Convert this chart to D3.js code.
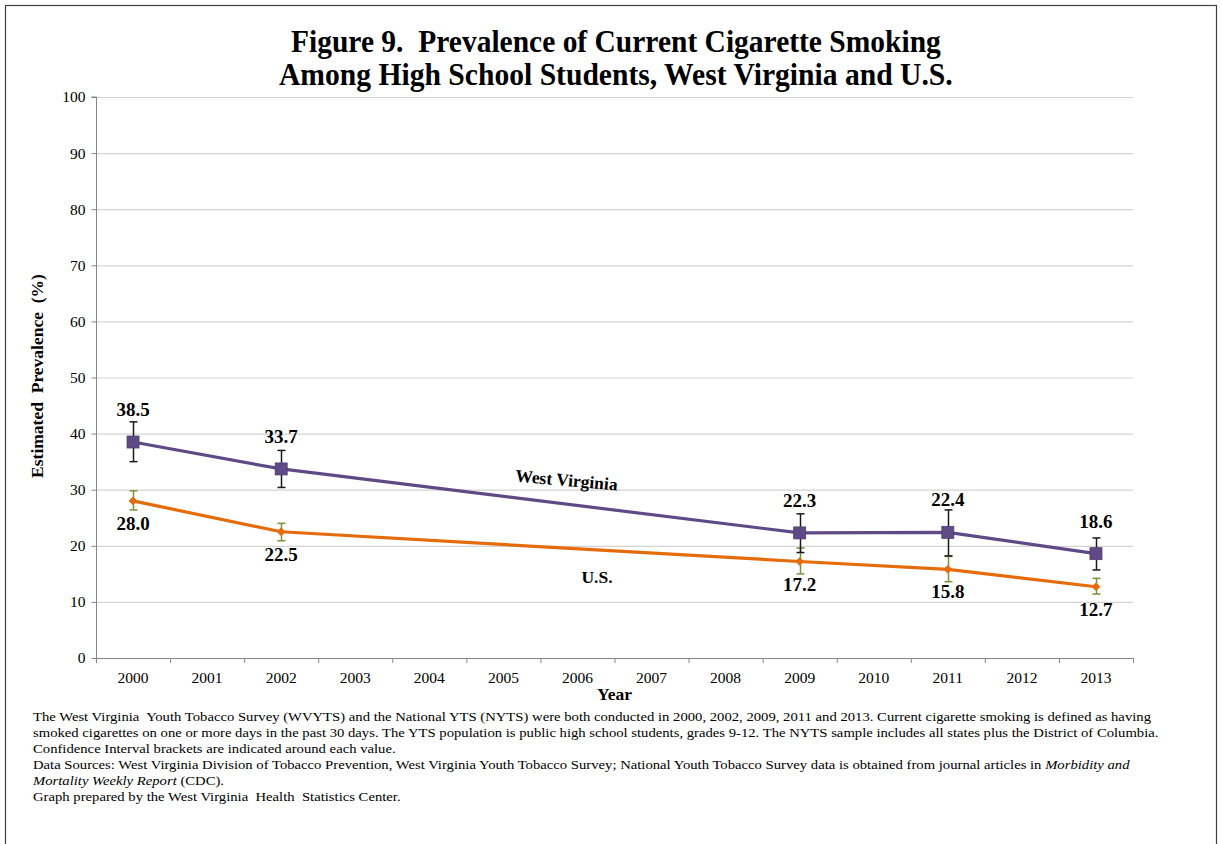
<!DOCTYPE html>
<html><head><meta charset="utf-8">
<script src="https://cdn.jsdelivr.net/npm/d3@7"></script>
<style>
html,body{margin:0;padding:0;background:#fff;}
svg{display:block;font-family:"Liberation Serif","Times New Roman",serif;}
text{white-space:pre;}
</style></head>
<body><svg id="chart" width="1221" height="844"></svg>
<script>
const years = ["2000","2001","2002","2003","2004","2005","2006","2007","2008","2009","2010","2011","2012","2013"];
const surveyYears = ["2000","2002","2009","2011","2013"];
const wvValues = [38.5, 33.7, 22.3, 22.4, 18.6];
const wvLower  = [35.0, 30.4, 18.8, 18.2, 15.7];
const wvUpper  = [42.1, 37.0, 25.7, 26.4, 21.4];
const usValues = [28.0, 22.5, 17.2, 15.8, 12.7];
const usLower  = [26.4, 20.9, 15.0, 13.6, 11.4];
const usUpper  = [29.8, 24.0, 19.6, 18.1, 14.2];
const yTicks = [0,10,20,30,40,50,60,70,80,90,100];
const titleLines = ["Figure 9.  Prevalence of Current Cigarette Smoking","Among High School Students, West Virginia and U.S."];
const seriesNames = ["West Virginia","U.S."];
const footLines = [
  [["The West Virginia  Youth Tobacco Survey (WVYTS) and the National YTS (NYTS) were both conducted in 2000, 2002, 2009, 2011 and 2013. Current cigarette smoking is defined as having", false]],
  [["smoked cigarettes on one or more days in the past 30 days. The YTS population is public high school students, grades 9-12. The NYTS sample includes all states plus the District of Columbia.", false]],
  [["Confidence Interval brackets are indicated around each value.", false]],
  [["Data Sources: West Virginia Division of Tobacco Prevention, West Virginia Youth Tobacco Survey; National Youth Tobacco Survey data is obtained from journal articles in ", false],["Morbidity and", true]],
  [["Mortality Weekly Report", true],[" (CDC).", false]],
  [["Graph prepared by the West Virginia  Health  Statistics Center.", false]]
];

const svg = d3.select("#chart");
const W = 1221, H = 844;
const plot = {left:96, right:1133, top:97, bottom:658};

svg.append("rect").attr("x",5.5).attr("y",5.5).attr("width",1211).attr("height",H+10)
  .attr("fill","#fff").attr("stroke","#404040").attr("stroke-width",1.2);

const x = d3.scaleBand().domain(years).range([plot.left, plot.right]).paddingInner(0).paddingOuter(0);
const cx = d => x(d) + x.bandwidth()/2;
const y = d3.scaleLinear().domain([0,100]).range([plot.bottom, plot.top]);

svg.append("g").selectAll("line").data(yTicks.filter(t=>t>0)).join("line")
  .attr("x1",plot.left).attr("x2",plot.right)
  .attr("y1",d=>y(d)+0.5).attr("y2",d=>y(d)+0.5)
  .attr("stroke","#d4d4d4").attr("stroke-width",1.2);

const yAxis = d3.axisLeft(y).tickValues(yTicks).tickSize(5).tickPadding(6).tickFormat(d3.format("d"));
const gy = svg.append("g").attr("transform",`translate(${plot.left+0.5},0)`).call(yAxis).attr("font-family",null);
gy.select(".domain").attr("stroke","#868686").attr("d",`M-5,${plot.top}H0V${plot.bottom}`);
gy.selectAll(".tick line").attr("stroke","#868686");
gy.selectAll(".tick text").attr("font-size",15.5).attr("fill","#000");

const xAxis = d3.axisBottom(x).tickSize(0).tickPadding(13);
const gx = svg.append("g").attr("transform",`translate(0,${plot.bottom+0.5})`).call(xAxis).attr("font-family",null);
gx.select(".domain").attr("stroke","#868686").attr("d",`M${plot.left},0H${plot.right}`);
gx.selectAll(".tick text").attr("font-size",15.5).attr("fill","#000");
svg.append("g").selectAll("line").data(years.concat(["end"])).join("line")
  .attr("x1",(d,i)=> (i<years.length? x(d): plot.right)+0.5)
  .attr("x2",(d,i)=> (i<years.length? x(d): plot.right)+0.5)
  .attr("y1",plot.bottom).attr("y2",plot.bottom+5)
  .attr("stroke","#868686");

svg.append("text").attr("x",(plot.left+plot.right)/2).attr("y",700).attr("text-anchor","middle")
  .attr("font-weight","bold").attr("font-size",17.5).text("Year");
svg.append("text").attr("transform",`translate(43,376) rotate(-90)`).attr("text-anchor","middle")
  .attr("font-weight","bold").attr("font-size",17.5).text("Estimated  Prevalence  (%)");

function fit(sel, targetW){ return targetW / sel.node().getComputedTextLength(); }

const titleTargets = [[291,941,52],[279,953,85]];
titleLines.forEach((t,i)=>{
  const tx = svg.append("text").attr("font-weight","bold").attr("font-size",31).text(t);
  const [x0,x1,by] = titleTargets[i];
  tx.attr("transform",`translate(${x0},${by}) scale(${fit(tx, x1-x0)},1)`);
});

const wvData = surveyYears.map((yr,i)=>({yr, v:wvValues[i], lo:wvLower[i], hi:wvUpper[i]}));
const usData = surveyYears.map((yr,i)=>({yr, v:usValues[i], lo:usLower[i], hi:usUpper[i]}));
const purple = "#5f4a85", orange = "#e46c0a";

const line = d3.line().x(d=>cx(d.yr)).y(d=>y(d.v));
svg.append("path").datum(usData).attr("d",line).attr("fill","none").attr("stroke",orange).attr("stroke-width",3.2).attr("stroke-linejoin","round");
svg.append("path").datum(wvData).attr("d",line).attr("fill","none").attr("stroke",purple).attr("stroke-width",3.2).attr("stroke-linejoin","round");

function errorBars(data, color){
  const g = svg.append("g").attr("stroke",color).attr("stroke-width",1.5);
  data.forEach(d=>{
    const X = Math.round(cx(d.yr))+0.5;
    g.append("line").attr("x1",X).attr("x2",X).attr("y1",y(d.hi)).attr("y2",y(d.lo));
    g.append("line").attr("x1",X-4).attr("x2",X+4).attr("y1",y(d.hi)).attr("y2",y(d.hi));
    g.append("line").attr("x1",X-4).attr("x2",X+4).attr("y1",y(d.lo)).attr("y2",y(d.lo));
  });
}
errorBars(usData, "#77933c");
errorBars(wvData, "#1a1a1a");

svg.append("g").selectAll("path").data(usData).join("path")
  .attr("transform",d=>`translate(${cx(d.yr)},${y(d.v)})`)
  .attr("d",d3.symbol(d3.symbolDiamond2,38)).attr("fill",orange).attr("stroke",orange).attr("stroke-width",1);
svg.append("g").selectAll("rect").data(wvData).join("rect")
  .attr("x",d=>cx(d.yr)-6).attr("y",d=>y(d.v)-6).attr("width",12).attr("height",12)
  .attr("fill",purple).attr("stroke","#4e3d70").attr("stroke-width",0.8);

svg.append("g").selectAll("text").data(wvData).join("text")
  .attr("x",d=>cx(d.yr)).attr("y",d=>y(d.v)-26).attr("text-anchor","middle")
  .attr("font-weight","bold").attr("font-size",19).text(d=>d.v.toFixed(1));
svg.append("g").selectAll("text").data(usData).join("text")
  .attr("x",d=>cx(d.yr)).attr("y",d=>y(d.v)+29).attr("text-anchor","middle")
  .attr("font-weight","bold").attr("font-size",19).text(d=>d.v.toFixed(1));

svg.append("text").attr("transform","translate(566,486) rotate(5)").attr("text-anchor","middle")
  .attr("font-weight","bold").attr("font-size",17.5).text(seriesNames[0]);
svg.append("text").attr("x",597).attr("y",583).attr("text-anchor","middle")
  .attr("font-weight","bold").attr("font-size",17.5).text(seriesNames[1]);

const footG = svg.append("g");
let kFoot = 1;
footLines.forEach((segs,i)=>{
  const t = footG.append("text").attr("font-size",13.5).attr("y",0);
  segs.forEach(([s,it])=>{ t.append("tspan").attr("font-style", it?"italic":"normal").text(s); });
  if(i===0){ kFoot = (1152-33)/t.node().getComputedTextLength(); }
  t.attr("transform",`translate(33,${721+i*16}) scale(${kFoot},1)`);
});
</script></body></html>
